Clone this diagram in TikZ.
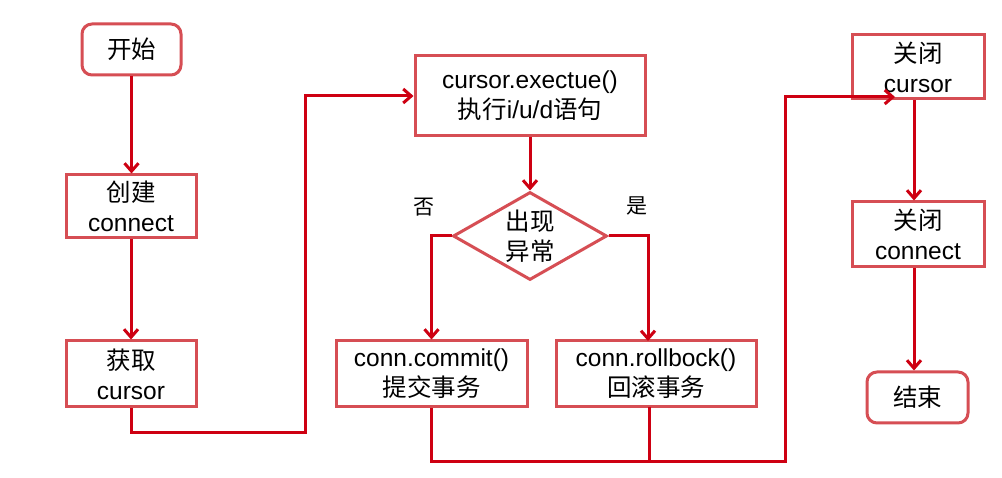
\documentclass[tikz,border=0pt]{standalone}
\usepackage{fontspec}
\setmainfont{Liberation Sans}
\newfontfamily\cjk{Noto Sans CJK SC}
\usetikzlibrary{arrows.meta,shapes.geometric}
\definecolor{boxred}{RGB}{214,78,84}
\definecolor{linered}{RGB}{206,0,18}
\tikzset{
  txt/.style={font=\fontsize{24.5}{30}\selectfont, align=center, text=black},
  box/.style={txt, draw=boxred, line width=3pt, fill=white, inner sep=0pt},
  rbox/.style={box, rounded corners=10pt},
  dbox/.style={txt, diamond, aspect=1.75, draw=boxred, line width=3pt, fill=white, inner sep=0pt},
  conn/.style={draw=linered, line width=3pt},
  arr/.style={conn, -{Straight Barb[length=8pt,width=14pt,line width=3pt]}},
  lbl/.style={font=\fontsize{21}{22}\selectfont\cjk, text=black}
}
\begin{document}
\begin{tikzpicture}[x=1pt,y=-1pt]
\useasboundingbox[fill=white] (0,0) rectangle (1002,478);
% nodes
\node[rbox, minimum width=99pt, minimum height=51pt] (start) at (131.5,49.5) {{\cjk 开始}};
\node[box, minimum width=130pt, minimum height=63pt] (create) at (131,206.5) {{\cjk 创建}\\connect};
\node[box, minimum width=130pt, minimum height=66pt] (getc) at (131,374) {{\cjk 获取}\\cursor};
\node[box, minimum width=230pt, minimum height=80pt] (exec) at (530,96) {cursor.exectue()\\{\cjk 执行}i/u/d{\cjk 语句}};
\node[dbox, minimum width=154pt, minimum height=88pt] (dec) at (530,236) {{\cjk 出现}\\{\cjk 异常}};
\node[lbl] (no) at (424,207) {否};
\node[lbl] (yes) at (637,206) {是};
\node[box, minimum width=191pt, minimum height=66pt] (commit) at (431.5,374) {conn.commit()\\{\cjk 提交事务}};
\node[box, minimum width=200pt, minimum height=66pt] (rollback) at (656,374) {conn.rollbock()\\{\cjk 回滚事务}};
\node[box, minimum width=132pt, minimum height=64pt] (closec) at (918,67) {{\cjk 关闭}\\cursor};
\node[box, minimum width=132pt, minimum height=65pt] (closeconn) at (918,234.5) {{\cjk 关闭}\\connect};
\node[rbox, minimum width=101pt, minimum height=51pt] (end) at (917.5,397.5) {{\cjk 结束}};
% helper coordinates
\coordinate (c1) at (305,432);
\coordinate (j1) at (785,461);
\coordinate (ct) at (895,97);
\coordinate (rbt) at (648,341);
\coordinate (rbb) at (649,407);
% connectors
\draw[arr] (start.south) -- (start.south |- create.north);
\draw[arr] (create) -- (getc);
\draw[arr] (getc.south) |- (c1) |- (exec.west);
\draw[arr] (exec) -- (dec);
\draw[arr] (dec.west) -| (commit.north);
\draw[arr] (dec.east) -| (rbt);
\draw[arr] (commit.south) |- (j1) |- (ct);
\draw[conn] (rbb) -- (rbb |- j1);
\draw[arr] ([xshift=-4pt]closec.south) -- ([xshift=-4pt]closeconn.north);
\draw[arr] ([xshift=-4pt]closeconn.south) -- ([xshift=-4pt]closeconn.south |- end.north);
\end{tikzpicture}
\end{document}
